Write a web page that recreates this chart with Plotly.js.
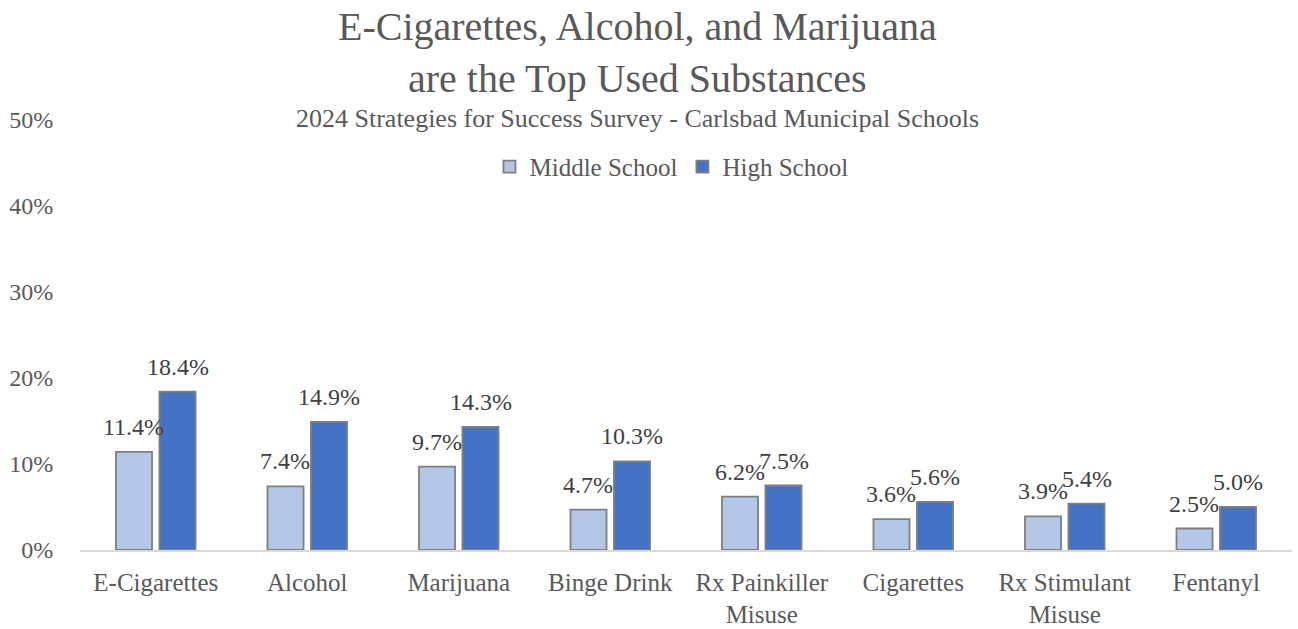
<!DOCTYPE html>
<html>
<head>
<meta charset="utf-8">
<script src="https://cdn.plot.ly/plotly-3.0.1.min.js"></script>
<style>html,body{margin:0;padding:0;background:#fff;}#chart{width:1298px;height:629px;}</style>
</head>
<body>
<div id="chart"></div>
<script>
const categories = ["E-Cigarettes", "Alcohol", "Marijuana", "Binge Drink", "Rx Painkiller<br>Misuse", "Cigarettes", "Rx Stimulant<br>Misuse", "Fentanyl"];
const middleSchool = [11.4, 7.4, 9.7, 4.7, 6.2, 3.6, 3.9, 2.5];
const highSchool = [18.4, 14.9, 14.3, 10.3, 7.5, 5.6, 5.4, 5.0];
const seriesNames = ["Middle School", "High School"];
const yTicks = [0, 10, 20, 30, 40, 50];

const FONT = "Liberation Serif, Times New Roman, serif";
const GREY = "#595959";

const traces = [
  {type: "bar", name: seriesNames[0], x: categories, y: middleSchool,
   marker: {color: "#B4C7E7", line: {color: "#7F7F7F", width: 1.8}}, hoverinfo: "none"},
  {type: "bar", name: seriesNames[1], x: categories, y: highSchool,
   marker: {color: "#4472C4", line: {color: "#7F7F7F", width: 1.8}}, hoverinfo: "none"}
];

const annotations = [];
[middleSchool, highSchool].forEach((vals, s) => {
  vals.forEach((v, i) => {
    annotations.push({
      x: categories[i], y: v, xref: "x", yref: "y",
      text: v.toFixed(1) + "%", showarrow: false,
      xshift: s === 0 ? -22 : 22, yshift: 10, yanchor: "bottom",
      font: {family: FONT, size: 24, color: "#404040"}
    });
  });
});
annotations.push({
  xref: "paper", yref: "paper", x: 0.4596, y: 1.0, yanchor: "middle", yshift: 2,
  text: "2024 Strategies for Success Survey - Carlsbad Municipal Schools",
  showarrow: false, font: {family: FONT, size: 26, color: GREY}
});

const layout = {
  width: 1298, height: 629,
  margin: {l: 80, r: 6, t: 120, b: 79},
  paper_bgcolor: "#fff", plot_bgcolor: "#fff",
  font: {family: FONT, color: GREY},
  title: {
    text: "E-Cigarettes, Alcohol, and Marijuana<br>are the Top Used Substances",
    font: {family: FONT, size: 40, color: GREY},
    x: 0.491, xanchor: "center", yref: "container", y: 0.936, yanchor: "top"
  },
  barmode: "group", bargap: 0.426, bargroupgap: 0.17,
  showlegend: true,
  legend: {orientation: "h", x: 0.488, xanchor: "center", y: 0.891, yanchor: "middle",
           font: {family: FONT, size: 25, color: GREY}, itemwidth: 30, traceorder: "normal"},
  xaxis: {type: "category", showline: true, linecolor: "#D9D9D9", linewidth: 1.5,
          ticks: "outside", ticklen: 9, tickcolor: "rgba(0,0,0,0)", showgrid: false,
          tickfont: {family: FONT, size: 25, color: GREY}, fixedrange: true},
  yaxis: {range: [0, 50], tickvals: yTicks, ticktext: yTicks.map(t => t + "%"),
          showgrid: false, zeroline: false, showline: false,
          ticks: "outside", ticklen: 21, tickcolor: "rgba(0,0,0,0)",
          tickfont: {family: FONT, size: 24, color: GREY}, fixedrange: true},
  annotations: annotations
};

Plotly.newPlot("chart", traces, layout, {displayModeBar: false, staticPlot: true});
</script>
</body>
</html>
